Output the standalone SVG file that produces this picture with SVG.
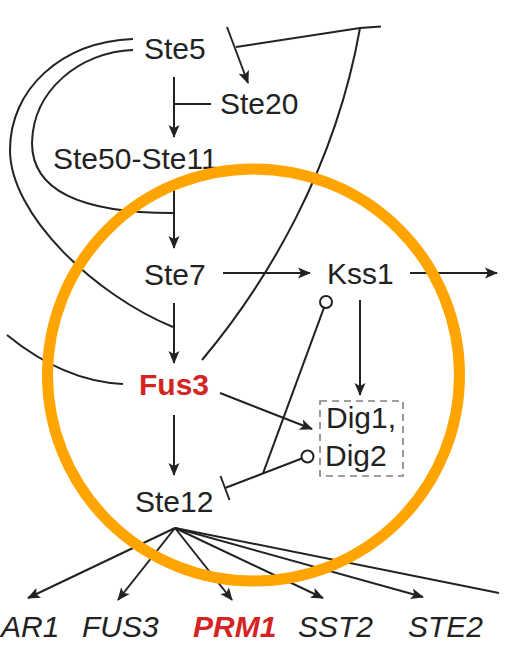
<svg xmlns="http://www.w3.org/2000/svg" width="519" height="652" viewBox="0 0 519 652">
  <style>
    .lbl { font-family: "Liberation Sans", Arial, sans-serif; font-size: 30px; fill: #222; }
    .hot { fill: #d42424; font-weight: bold; }
    .gene { font-style: italic; }
    .edge { fill: none; stroke: #222; stroke-width: 2; }
    .act { marker-end: url(#arrow); }
    .box { fill: none; stroke: #808080; stroke-width: 1.6; stroke-dasharray: 7 5; }
    .dot { fill: #fff; stroke: #222; stroke-width: 2; }
  </style>
  <defs>
    <marker id="arrow" markerUnits="userSpaceOnUse" markerWidth="14" markerHeight="12" viewBox="0 0 14 12" refX="12" refY="6" orient="auto">
      <path d="M0,0.5 L13,6 L0,11.5 L3,6 Z" fill="#222"/>
    </marker>
  </defs>

  <rect width="519" height="652" fill="#fff"/>

  <!-- connectors -->
  <g id="edges">
    <!-- feedback loops on the left -->
    <path class="edge" d="M133,39 C60,42 10,90 10,150 C10,215 95,295 173,327"/>
    <path class="edge" d="M133,50 C80,52 33,90 32,143 C32,190 80,213 173,213"/>
    <path class="edge" d="M7,335 C40,362 80,382 123,384"/>
    <!-- Fus3 long loop to the top -->
    <path class="edge" d="M202,360 C265,285 335,170 360,28"/>
    <path class="edge" d="M236,47 L360,28 L381,26.5"/>

    <!-- main cascade -->
    <line class="edge act" x1="227" y1="27" x2="248" y2="83"/>
    <line class="edge act" x1="174" y1="77" x2="174" y2="137"/>
    <line class="edge" x1="174" y1="104" x2="211" y2="104"/>
    <line class="edge act" x1="174" y1="187" x2="174" y2="248"/>
    <line class="edge act" x1="223" y1="273" x2="310" y2="273"/>
    <line class="edge act" x1="410" y1="273" x2="497" y2="273"/>
    <line class="edge act" x1="174" y1="303" x2="174" y2="363"/>
    <line class="edge act" x1="360" y1="300" x2="360" y2="395"/>
    <line class="edge act" x1="220" y1="393" x2="312" y2="429"/>
    <line class="edge act" x1="174" y1="415" x2="174" y2="475"/>

    <!-- Kss1 / Dig2 repression of Ste12 -->
    <line class="edge" x1="324" y1="307.6" x2="263" y2="473.4"/>
    <line class="edge" x1="301.8" y1="458.5" x2="225" y2="488"/>
    <line class="edge" x1="220.5" y1="476" x2="229.5" y2="500"/>
    <circle class="dot" cx="326" cy="302" r="6"/>
    <circle class="dot" cx="307.5" cy="456.5" r="6"/>

    <!-- Ste12 targets -->
    <line class="edge act" x1="175" y1="528" x2="28" y2="598"/>
    <line class="edge act" x1="175" y1="528" x2="118" y2="600"/>
    <line class="edge act" x1="175" y1="528" x2="232" y2="600"/>
    <line class="edge act" x1="175" y1="528" x2="323" y2="598"/>
    <line class="edge act" x1="175" y1="528" x2="423" y2="597"/>
    <line class="edge" x1="175" y1="528" x2="499" y2="593"/>
  </g>

  <!-- nodes -->
  <g id="ste5"><text class="lbl" x="144" y="59">Ste5</text></g>
  <g id="ste20"><text class="lbl" x="220" y="114">Ste20</text></g>
  <g id="ste50-ste11"><text class="lbl" x="53" y="169">Ste50-Ste11</text></g>
  <g id="ste7"><text class="lbl" x="144" y="285">Ste7</text></g>
  <g id="kss1"><text class="lbl" x="327" y="284">Kss1</text></g>
  <g id="fus3"><text class="lbl hot" x="139" y="395">Fus3</text></g>
  <g id="dig">
    <rect class="box" x="320" y="401" width="83" height="75"/>
    <text class="lbl" x="326" y="428">Dig1,</text>
    <text class="lbl" x="325" y="466">Dig2</text>
  </g>
  <g id="ste12"><text class="lbl" x="135" y="511.5">Ste12</text></g>

  <g id="far1"><text class="lbl gene" x="1" y="637">AR1</text></g>
  <g id="fus3-gene"><text class="lbl gene" x="82" y="637">FUS3</text></g>
  <g id="prm1"><text class="lbl gene hot" x="193" y="637">PRM1</text></g>
  <g id="sst2"><text class="lbl gene" x="298" y="637">SST2</text></g>
  <g id="ste2"><text class="lbl gene" x="408" y="637">STE2</text></g>

  <!-- highlight ring -->
  <circle cx="253.5" cy="375" r="206" fill="none" stroke="#ffa400" stroke-width="11"/>
</svg>
